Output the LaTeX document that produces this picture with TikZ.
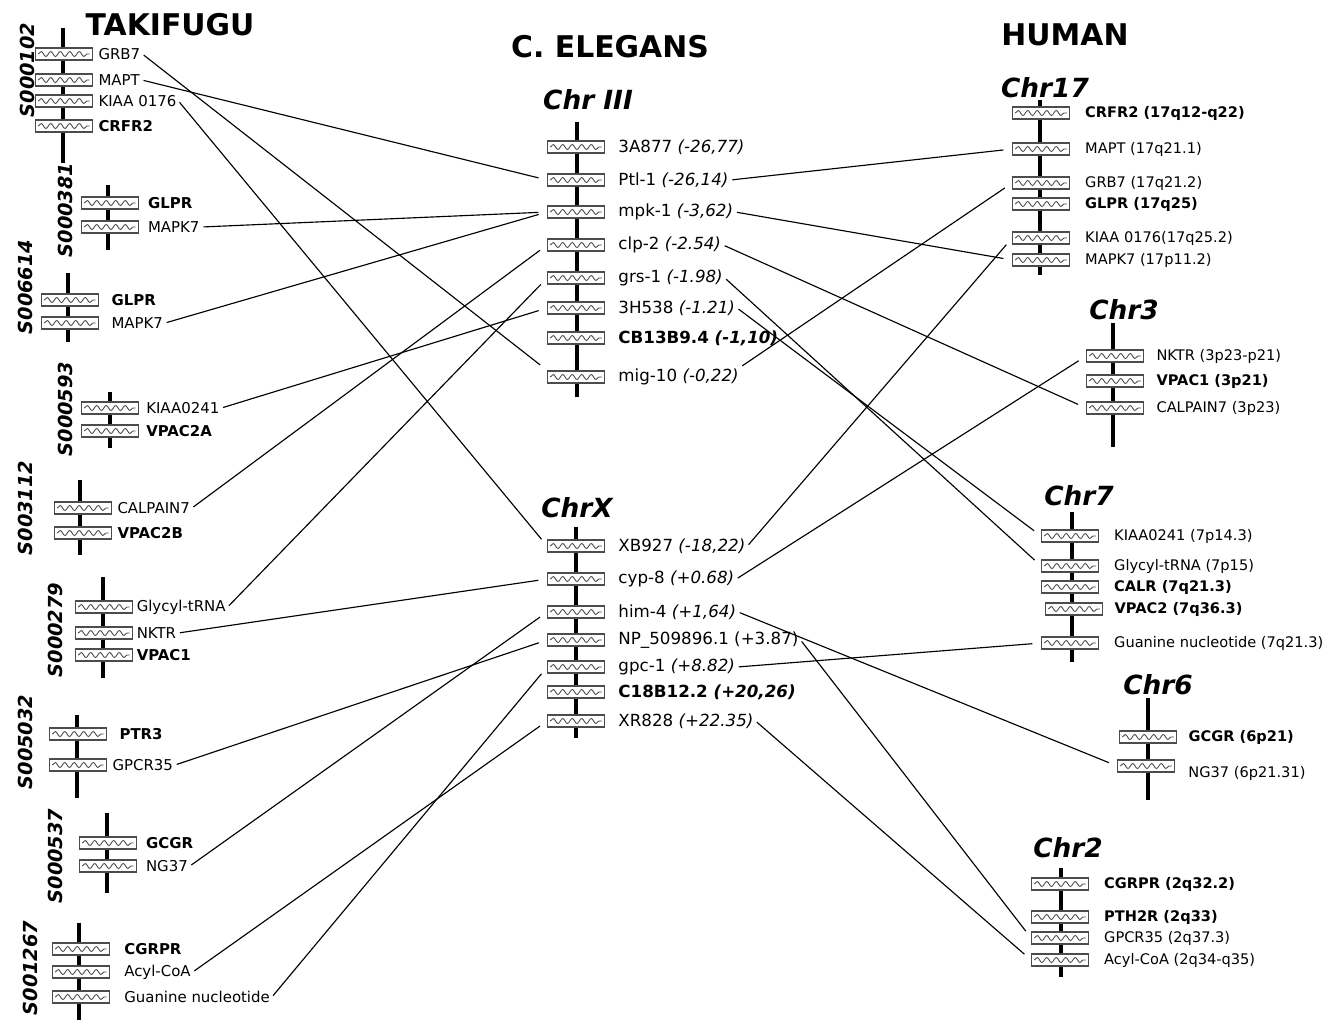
\documentclass[tikz,border=0pt]{standalone}
\usepackage{fontspec}
\setmainfont{DejaVu Sans}
\usetikzlibrary{decorations.pathmorphing}

\begin{document}
\begin{tikzpicture}[
    x=0.02cm, y=-0.02cm,
    chrom/.style={line width=2.8pt},
    gbox/.style={draw=black!70, line width=0.75pt, fill=white,
      minimum width=1.13cm, minimum height=0.24cm, inner sep=0pt,
      path picture={\draw[black!70, line width=0.5pt, decorate,
        decoration={snake, segment length=0.19cm, amplitude=0.05cm}]
        ([xshift=0.05cm]path picture bounding box.west) --
        ([xshift=-0.05cm]path picture bounding box.east);}},
    tlbl/.style={font=\fontsize{8.5}{10}\selectfont, inner sep=1pt, xshift=2pt},
    clbl/.style={font=\fontsize{9.5}{11}\selectfont, inner sep=1pt, xshift=6.5pt},
    hlbl/.style={font=\fontsize{8.3}{10}\selectfont, inner sep=1pt, xshift=7.5pt},
    scaf/.style={rotate=90, font=\fontsize{11}{12}\selectfont\bfseries\itshape},
    title/.style={font=\fontsize{17}{20}\selectfont\bfseries},
    chrname/.style={font=\fontsize{15}{18}\selectfont\bfseries\itshape},
    link/.style={line width=0.65pt, shorten <=1pt, shorten >=5pt},
  ]
\path[fill=white, use as bounding box] (0,0) rectangle (1331,1022);

% Column headings
\node[title] (takifugu) at (170,25) {TAKIFUGU};
\node[title] (elegans) at (610,47) {C. ELEGANS};
\node[title] (human) at (1065,35) {HUMAN};

% Takifugu scaffolds
\node[scaf] (s000102) at (27,70) {S000102};
\draw[chrom] (63,28) -- (63,163);
\node[gbox, label={[tlbl, name=tl-GRB7]right:GRB7}] (t-GRB7) at (64,54) {};
\node[gbox, label={[tlbl, name=tl-MAPT]right:MAPT}] (t-MAPT) at (64,80) {};
\node[gbox, label={[tlbl, name=tl-KIAA0176]right:KIAA 0176}] (t-KIAA0176) at (64,101) {};
\node[gbox, label={[tlbl]right:{\bfseries CRFR2}}] (t-CRFR2) at (64,126) {};

\node[scaf] (s000381) at (65,210) {S000381};
\draw[chrom] (108,185) -- (108,250);
\node[gbox, label={[tlbl, xshift=2pt]right:{\bfseries GLPR}}] (t-GLPR-a) at (110,203) {};
\node[gbox, label={[tlbl, xshift=2pt, name=tl-MAPK7-a]right:MAPK7}] (t-MAPK7-a) at (110,227) {};

\node[scaf] (s006614) at (25,287) {S006614};
\draw[chrom] (68,273) -- (68,342);
\node[gbox, label={[tlbl, xshift=4pt]right:{\bfseries GLPR}}] (t-GLPR-b) at (70,300) {};
\node[gbox, label={[tlbl, xshift=4pt, name=tl-MAPK7-b]right:MAPK7}] (t-MAPK7-b) at (70,323) {};

\node[scaf] (s000593) at (65,409) {S000593};
\draw[chrom] (110,392) -- (110,448);
\node[gbox, label={[tlbl, xshift=1pt, name=tl-KIAA0241]right:KIAA0241}] (t-KIAA0241) at (110,408) {};
\node[gbox, label={[tlbl, xshift=1pt]right:{\bfseries VPAC2A}}] (t-VPAC2A) at (110,431) {};

\node[scaf] (s003112) at (25,508) {S003112};
\draw[chrom] (80,480) -- (80,555);
\node[gbox, label={[tlbl, name=tl-CALPAIN7]right:CALPAIN7}] (t-CALPAIN7) at (83,508) {};
\node[gbox, label={[tlbl]right:{\bfseries VPAC2B}}] (t-VPAC2B) at (83,533) {};

\node[scaf] (s000279) at (55,630) {S000279};
\draw[chrom] (103,577) -- (103,678);
\node[gbox, label={[tlbl, xshift=-1pt, name=tl-Glycyl]right:Glycyl-tRNA}] (t-Glycyl) at (104,607) {};
\node[gbox, label={[tlbl, xshift=-1pt, name=tl-NKTR]right:NKTR}] (t-NKTR) at (104,633) {};
\node[gbox, label={[tlbl, xshift=-1pt]right:{\bfseries VPAC1}}] (t-VPAC1) at (104,655) {};

\node[scaf] (s005032) at (25,742) {S005032};
\draw[chrom] (77,715) -- (77,798);
\node[gbox, label={[tlbl, xshift=4pt]right:{\bfseries PTR3}}] (t-PTR3) at (78,734) {};
\node[gbox, label={[tlbl, name=tl-GPCR35]right:GPCR35}] (t-GPCR35) at (78,765) {};

\node[scaf] (s000537) at (55,856) {S000537};
\draw[chrom] (107,813) -- (107,893);
\node[gbox, label={[tlbl, xshift=2pt]right:{\bfseries GCGR}}] (t-GCGR) at (108,843) {};
\node[gbox, label={[tlbl, xshift=2pt, name=tl-NG37]right:NG37}] (t-NG37) at (108,866) {};

\node[scaf] (s001267) at (30,968) {S001267};
\draw[chrom] (79,923) -- (79,1020);
\node[gbox, label={[tlbl, xshift=5pt]right:{\bfseries CGRPR}}] (t-CGRPR) at (81,949) {};
\node[gbox, label={[tlbl, xshift=5pt, name=tl-AcylCoA]right:Acyl-CoA}] (t-AcylCoA) at (81,972) {};
\node[gbox, label={[tlbl, xshift=5pt, name=tl-Guanine]right:Guanine nucleotide}] (t-Guanine) at (81,997) {};

% C. elegans chromosomes
\node[chrname] (chrIII) at (588,100) {Chr III};
\draw[chrom] (577,122) -- (577,397);
\node[gbox, label={[clbl]right:{3A877 \textit{(-26,77)}}}] (c-3A877) at (576,147) {};
\node[gbox, label={[clbl, name=cl-Ptl]right:{Ptl-1 \textit{(-26,14)}}}] (c-Ptl) at (576,180) {};
\node[gbox, label={[clbl, name=cl-mpk]right:{mpk-1 \textit{(-3,62)}}}] (c-mpk) at (576,212) {};
\node[gbox, label={[clbl, name=cl-clp]right:{clp-2 \textit{(-2.54)}}}] (c-clp) at (576,245) {};
\node[gbox, label={[clbl, name=cl-grs]right:{grs-1 \textit{(-1.98)}}}] (c-grs) at (576,278) {};
\node[gbox, label={[clbl, name=cl-3H538]right:{3H538 \textit{(-1.21)}}}] (c-3H538) at (576,308) {};
\node[gbox, label={[clbl]right:{\bfseries CB13B9.4 \textit{(-1,10)}}}] (c-CB13B9) at (576,338) {};
\node[gbox, label={[clbl, name=cl-mig]right:{mig-10 \textit{(-0,22)}}}] (c-mig) at (576,377) {};

\node[chrname] (chrX) at (577,508) {ChrX};
\draw[chrom] (576,527) -- (576,738);
\node[gbox, label={[clbl, name=cl-XB927]right:{XB927 \textit{(-18,22)}}}] (c-XB927) at (576,546) {};
\node[gbox, label={[clbl, name=cl-cyp]right:{cyp-8 \textit{(+0.68)}}}] (c-cyp) at (576,579) {};
\node[gbox, label={[clbl, name=cl-him]right:{him-4 \textit{(+1,64)}}}] (c-him) at (576,612) {};
\node[gbox, label={[clbl, name=cl-NP]right:{NP\_509896.1 (+3.87)}}] (c-NP) at (576,640) {};
\node[gbox, label={[clbl, name=cl-gpc]right:{gpc-1 \textit{(+8.82)}}}] (c-gpc) at (576,667) {};
\node[gbox, label={[clbl]right:{\bfseries C18B12.2 \textit{(+20,26)}}}] (c-C18B12) at (576,692) {};
\node[gbox, label={[clbl, name=cl-XR828]right:{XR828 \textit{(+22.35)}}}] (c-XR828) at (576,721) {};

% Human chromosomes
\node[chrname] (chr17) at (1045,88) {Chr17};
\draw[chrom] (1040,100) -- (1040,275);
\node[gbox, label={[hlbl]right:{\bfseries CRFR2 (17q12-q22)}}] (h-CRFR2) at (1041,113) {};
\node[gbox, label={[hlbl]right:{MAPT (17q21.1)}}] (h-MAPT) at (1041,149) {};
\node[gbox, label={[hlbl]right:{GRB7 (17q21.2)}}] (h-GRB7) at (1041,183) {};
\node[gbox, label={[hlbl]right:{\bfseries GLPR (17q25)}}] (h-GLPR) at (1041,204) {};
\node[gbox, label={[hlbl]right:{KIAA 0176(17q25.2)}}] (h-KIAA0176) at (1041,238) {};
\node[gbox, label={[hlbl]right:{MAPK7 (17p11.2)}}] (h-MAPK7) at (1041,260) {};

\node[chrname] (chr3) at (1124,310) {Chr3};
\draw[chrom] (1113,323) -- (1113,447);
\node[gbox, label={[hlbl, xshift=-1.5pt]right:{NKTR (3p23-p21)}}] (h-NKTR) at (1115,356) {};
\node[gbox, label={[hlbl, xshift=-1.5pt]right:{\bfseries VPAC1 (3p21)}}] (h-VPAC1) at (1115,381) {};
\node[gbox, label={[hlbl, xshift=-1.5pt]right:{CALPAIN7 (3p23)}}] (h-CALPAIN7) at (1115,408) {};

\node[chrname] (chr7) at (1079,496) {Chr7};
\draw[chrom] (1072,512) -- (1072,662);
\node[gbox, label={[hlbl]right:{KIAA0241 (7p14.3)}}] (h-KIAA0241) at (1070,536) {};
\node[gbox, label={[hlbl]right:{Glycyl-tRNA (7p15)}}] (h-Glycyl) at (1070,566) {};
\node[gbox, label={[hlbl]right:{\bfseries CALR (7q21.3)}}] (h-CALR) at (1070,587) {};
\node[gbox, label={[hlbl, xshift=-2pt]right:{\bfseries VPAC2 (7q36.3)}}] (h-VPAC2) at (1074,609) {};
\node[gbox, label={[hlbl]right:{Guanine nucleotide (7q21.3)}}] (h-Guanine) at (1070,643) {};

\node[chrname] (chr6) at (1158,685) {Chr6};
\draw[chrom] (1148,698) -- (1148,800);
\node[gbox, label={[hlbl, xshift=-2pt]right:{\bfseries GCGR (6p21)}}] (h-GCGR) at (1148,737) {};
\node[gbox, label={[hlbl, xshift=-1pt, yshift=-4pt]right:{NG37 (6p21.31)}}] (h-NG37) at (1146,766) {};

\node[chrname] (chr2) at (1068,848) {Chr2};
\draw[chrom] (1061,868) -- (1061,977);
\node[gbox, label={[hlbl]right:{\bfseries CGRPR (2q32.2)}}] (h-CGRPR) at (1060,884) {};
\node[gbox, label={[hlbl]right:{\bfseries PTH2R (2q33)}}] (h-PTH2R) at (1060,917) {};
\node[gbox, label={[hlbl]right:{GPCR35 (2q37.3)}}] (h-GPCR35) at (1060,938) {};
\node[gbox, label={[hlbl]right:{Acyl-CoA (2q34-q35)}}] (h-AcylCoA) at (1060,960) {};

% Takifugu to C. elegans
\draw[link] (tl-GRB7.east) -- (c-mig.north west);
\draw[link] (tl-MAPT.east) -- (c-Ptl.west);
\draw[link] (tl-KIAA0176.east) -- (c-XB927.west);
\draw[link] (tl-MAPK7-a.east) -- (c-mpk.west);
\draw[link] (tl-MAPK7-b.east) -- (c-mpk.west);
\draw[link] (tl-KIAA0241.east) -- (c-3H538.west);
\draw[link] (tl-CALPAIN7.east) -- (c-clp.west);
\draw[link] (tl-Glycyl.east) -- (c-grs.west);
\draw[link] (tl-NKTR.east) -- (c-cyp.west);
\draw[link] (tl-GPCR35.east) -- (c-NP.west);
\draw[link] (tl-NG37.east) -- (c-him.west);
\draw[link] (tl-AcylCoA.east) -- (c-XR828.west);
\draw[link] (tl-Guanine.east) -- (c-gpc.west);

% C. elegans to human
\draw[link] (cl-Ptl.east) -- (h-MAPT.west);
\draw[link] (cl-mpk.east) -- (h-MAPK7.west);
\draw[link] (cl-clp.east) -- (h-CALPAIN7.west);
\draw[link] (cl-grs.east) -- (h-Glycyl.west);
\draw[link] (cl-3H538.east) -- (h-KIAA0241.west);
\draw[link] (cl-mig.north east) -- (h-GRB7.west);
\draw[link] (cl-XB927.east) -- (h-KIAA0176.west);
\draw[link] (cl-cyp.east) -- (h-NKTR.west);
\draw[link] (cl-him.east) -- (h-NG37.west);
\draw[link] (cl-NP.east) -- (h-GPCR35.west);
\draw[link] (cl-gpc.east) -- (h-Guanine.west);
\draw[link] (cl-XR828.east) -- (h-AcylCoA.west);

\end{tikzpicture}
\end{document}
